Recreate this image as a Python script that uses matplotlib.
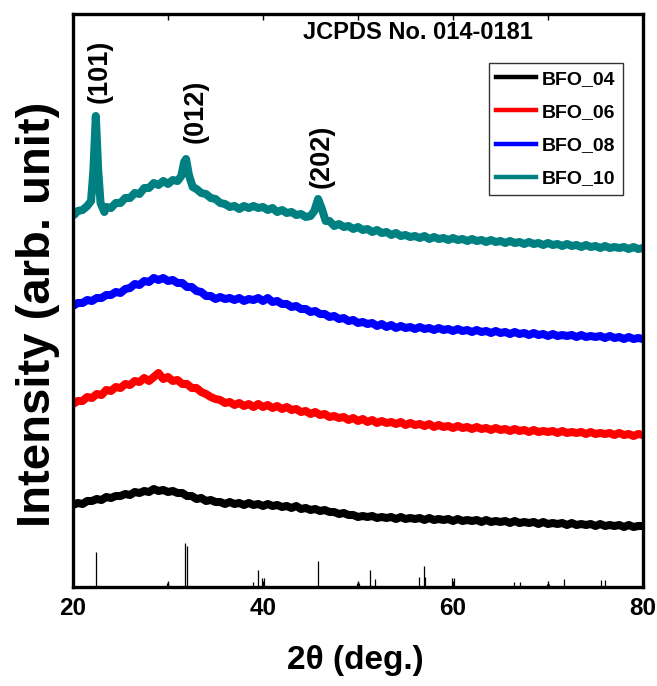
import matplotlib
matplotlib.use("Agg")
import matplotlib.pyplot as plt
from matplotlib import font_manager
from matplotlib.ticker import MultipleLocator, FixedLocator
from matplotlib.lines import Line2D

def pick(names):
    for n in names:
        try:
            font_manager.findfont(n, fallback_to_default=False)
            return n
        except Exception:
            pass
    return "DejaVu Sans"

FONT = pick(["Liberation Sans", "Arial", "DejaVu Sans"])

# ---------------- data ----------------
two_theta = [20.0, 20.5, 21.0, 21.5, 22.0, 22.5, 23.0, 23.5, 24.0, 24.5, 25.0, 25.5, 26.0, 26.5,
             27.0, 27.5, 28.0, 28.5, 29.0, 29.5, 30.0, 30.5, 31.0, 31.5, 32.0, 32.5, 33.0, 33.5,
             34.0, 34.5, 35.0, 35.5, 36.0, 36.5, 37.0, 37.5, 38.0, 38.5, 39.0, 39.5, 40.0, 40.5,
             41.0, 41.5, 42.0, 42.5, 43.0, 43.5, 44.0, 44.5, 45.0, 45.5, 46.0, 46.5, 47.0, 47.5,
             48.0, 48.5, 49.0, 49.5, 50.0, 50.5, 51.0, 51.5, 52.0, 52.5, 53.0, 53.5, 54.0, 54.5,
             55.0, 55.5, 56.0, 56.5, 57.0, 57.5, 58.0, 58.5, 59.0, 59.5, 60.0, 60.5, 61.0, 61.5,
             62.0, 62.5, 63.0, 63.5, 64.0, 64.5, 65.0, 65.5, 66.0, 66.5, 67.0, 67.5, 68.0, 68.5,
             69.0, 69.5, 70.0, 70.5, 71.0, 71.5, 72.0, 72.5, 73.0, 73.5, 74.0, 74.5, 75.0, 75.5,
             76.0, 76.5, 77.0, 77.5, 78.0, 78.5, 79.0, 79.5, 80.0]

bfo_04 = [82, 84, 83, 86, 86, 88, 87, 90, 89, 91, 91, 93, 92, 95,
          94, 96, 95, 98, 96, 97, 95, 96, 94, 94, 91, 91, 88, 89,
          86, 87, 85, 85, 83, 85, 83, 84, 82, 84, 82, 83, 81, 83,
          81, 82, 80, 81, 79, 81, 78, 79, 77, 78, 76, 77, 75, 75,
          73, 74, 72, 72, 70, 71, 70, 71, 69, 70, 69, 70, 68, 70,
          68, 69, 68, 69, 67, 69, 67, 68, 67, 68, 66, 68, 66, 67,
          66, 67, 65, 67, 65, 66, 65, 66, 64, 66, 64, 65, 64, 65,
          63, 65, 63, 64, 63, 64, 62, 64, 62, 63, 62, 63, 61, 63,
          61, 62, 61, 62, 60, 62, 60, 61, 61]

bfo_06 = [183, 186, 186, 190, 189, 193, 192, 197, 196, 200, 199, 203, 202, 206,
          205, 209, 206, 210, 214, 208, 210, 206, 207, 203, 203, 199, 199, 195,
          193, 190, 188, 187, 184, 185, 182, 184, 181, 183, 180, 183, 180, 182,
          179, 181, 178, 180, 177, 178, 175, 176, 173, 175, 172, 173, 170, 171,
          169, 170, 167, 169, 166, 168, 165, 167, 164, 166, 164, 165, 163, 165,
          162, 164, 162, 163, 161, 163, 160, 162, 160, 161, 159, 161, 159, 160,
          158, 160, 158, 159, 157, 159, 157, 158, 156, 158, 156, 157, 155, 157,
          155, 156, 155, 156, 154, 156, 154, 155, 154, 155, 153, 155, 153, 154,
          153, 154, 152, 154, 152, 153, 151, 153, 152]

bfo_08 = [281, 284, 284, 287, 286, 289, 289, 292, 292, 295, 294, 298, 299, 303,
          302, 306, 305, 309, 307, 309, 306, 307, 304, 304, 300, 300, 296, 295,
          291, 291, 288, 290, 288, 289, 287, 289, 286, 288, 287, 289, 286, 289,
          285, 286, 283, 283, 280, 281, 278, 278, 275, 276, 273, 273, 270, 271,
          268, 269, 266, 267, 264, 265, 263, 264, 261, 263, 260, 262, 259, 261,
          259, 260, 258, 260, 258, 259, 257, 259, 257, 258, 256, 258, 256, 257,
          255, 257, 255, 256, 254, 256, 254, 255, 253, 255, 253, 254, 252, 254,
          252, 253, 251, 253, 251, 252, 251, 252, 250, 252, 250, 251, 250, 251,
          249, 251, 249, 250, 248, 250, 248, 249, 248]

two_theta_10 = [20.0, 20.5, 21.0, 21.5, 21.9, 22.15, 22.4, 22.65, 22.9, 23.3, 23.5, 24.0, 24.5,
                25.0, 25.5, 26.0, 26.5, 27.0, 27.5, 28.0, 28.5, 29.0, 29.5, 30.0, 30.5, 31.0,
                31.4, 31.7, 31.9, 32.2, 32.6, 33.0, 33.5, 34.0, 34.5, 35.0, 35.5, 36.0, 36.5,
                37.0, 37.5, 38.0, 38.5, 39.0, 39.5, 40.0, 40.5, 41.0, 41.5, 42.0, 42.5, 43.0,
                43.5, 44.0, 44.5, 45.0, 45.4, 45.8, 46.2, 46.6, 47.0, 47.5, 48.0, 48.5, 49.0,
                49.5, 50.0, 50.5, 51.0, 51.5, 52.0, 52.5, 53.0, 53.5, 54.0, 54.5, 55.0, 55.5,
                56.0, 56.5, 57.0, 57.5, 58.0, 58.5, 59.0, 59.5, 60.0, 60.5, 61.0, 61.5, 62.0,
                62.5, 63.0, 63.5, 64.0, 64.5, 65.0, 65.5, 66.0, 66.5, 67.0, 67.5, 68.0, 68.5,
                69.0, 69.5, 70.0, 70.5, 71.0, 71.5, 72.0, 72.5, 73.0, 73.5, 74.0, 74.5, 75.0,
                75.5, 76.0, 76.5, 77.0, 77.5, 78.0, 78.5, 79.0, 79.5, 80.0]
bfo_10 = [371, 376, 377, 381, 386, 417, 471, 417, 384, 375, 380, 379, 384,
          384, 389, 389, 394, 393, 399, 399, 404, 402, 406, 403, 407, 406,
          411, 425, 428, 412, 400, 398, 394, 393, 389, 388, 384, 383, 380,
          381, 378, 381, 379, 381, 379, 380, 377, 379, 375, 377, 374, 375,
          372, 373, 370, 371, 376, 388, 378, 366, 366, 361, 363, 360, 361,
          358, 360, 357, 358, 355, 357, 354, 355, 352, 354, 351, 352, 350,
          351, 349, 351, 348, 350, 348, 349, 347, 349, 347, 348, 346, 348,
          346, 347, 345, 347, 345, 346, 344, 346, 344, 345, 343, 345, 343,
          344, 342, 344, 342, 343, 341, 343, 341, 342, 340, 342, 340, 341,
          339, 341, 339, 340, 339, 340, 338, 340, 338, 339]

# JCPDS 014-0181 reference lines (relative intensity)
ref_pos = [22.4, 29.85, 30.0, 31.8, 32.05, 38.9, 39.5, 39.9, 40.1, 45.8, 49.9, 50.1, 51.3, 51.8,
           56.4, 56.9, 57.1, 59.9, 60.1, 66.4, 67.0, 69.9, 70.1, 71.7, 75.6, 76.0]
ref_int = [80, 9, 9, 100, 93, 11, 39, 20, 20, 59, 9, 9, 39, 18,
           23, 48, 23, 20, 20, 11, 11, 7, 7, 18, 16, 16]
ref_scale = 0.44

labels = ["BFO_04", "BFO_06", "BFO_08", "BFO_10"]
colors = ["#000000", "#ff0000", "#0000ff", "#008080"]

peak_labels = ["(101)", "(012)", "(202)"]
peak_x = [22.8, 32.9, 46.2]
peak_y = [484, 444, 399]

xticks_major = [20, 40, 60, 80]

# ---------------- figure ----------------
fig = plt.figure(figsize=(6.57, 6.86), dpi=100)
ax = fig.add_axes([73/657, 1-587/686, 570/657, 573/686])

series = [(two_theta, bfo_04), (two_theta, bfo_06), (two_theta, bfo_08), (two_theta_10, bfo_10)]
for (x, y), c, lab in zip(series, colors, labels):
    ax.plot(x, y, color=c, lw=5.8, solid_joinstyle="round", solid_capstyle="butt", label=lab)

ax.vlines(ref_pos, 0, [v * ref_scale for v in ref_int], color="black", lw=0.9)

ax.set_xlim(20, 80)
ax.set_ylim(0, 573)
ax.xaxis.set_major_locator(FixedLocator(xticks_major))
ax.xaxis.set_minor_locator(MultipleLocator(10))
ax.tick_params(axis="x", which="both", direction="in", top=True, bottom=True, length=4, width=1)
ax.tick_params(axis="x", which="major", pad=7)
ax.set_yticks([])
for s in ax.spines.values():
    s.set_linewidth(2.4)

for t in ax.get_xticklabels():
    t.set_fontfamily(FONT)
    t.set_fontweight("bold")
    t.set_fontsize(17.5)

for lab, x, y in zip(peak_labels, peak_x, peak_y):
    ax.text(x, y, lab, rotation=90, ha="center", va="bottom", fontsize=19.5,
            fontweight="bold", family=FONT)

ax.text(0.605, 0.967, "JCPDS No. 014-0181", transform=ax.transAxes, ha="center", va="center",
        fontsize=17, fontweight="bold", family=FONT)

handles = [Line2D([], [], color=c, lw=3.2) for c in colors]
leg = ax.legend(handles, labels, loc="upper right", bbox_to_anchor=(0.965, 0.9145),
                borderaxespad=0, frameon=True, fancybox=False, handlelength=2.05,
                handletextpad=0.3, labelspacing=0.8, borderpad=0.38,
                prop={"family": FONT, "weight": "bold", "size": 14})
leg.get_frame().set_edgecolor("black")
leg.get_frame().set_linewidth(1.0)

fig.text(355/657, 1-661/686, "2\u03b8 (deg.)", ha="center", va="center", fontsize=24,
         fontweight="bold", family=FONT)
fig.text(38/657, 1-314/686, "Intensity (arb. unit)", rotation=90, ha="center", va="center",
         fontsize=34, fontweight="bold", family=FONT)

fig.savefig("out.png", dpi=100)
